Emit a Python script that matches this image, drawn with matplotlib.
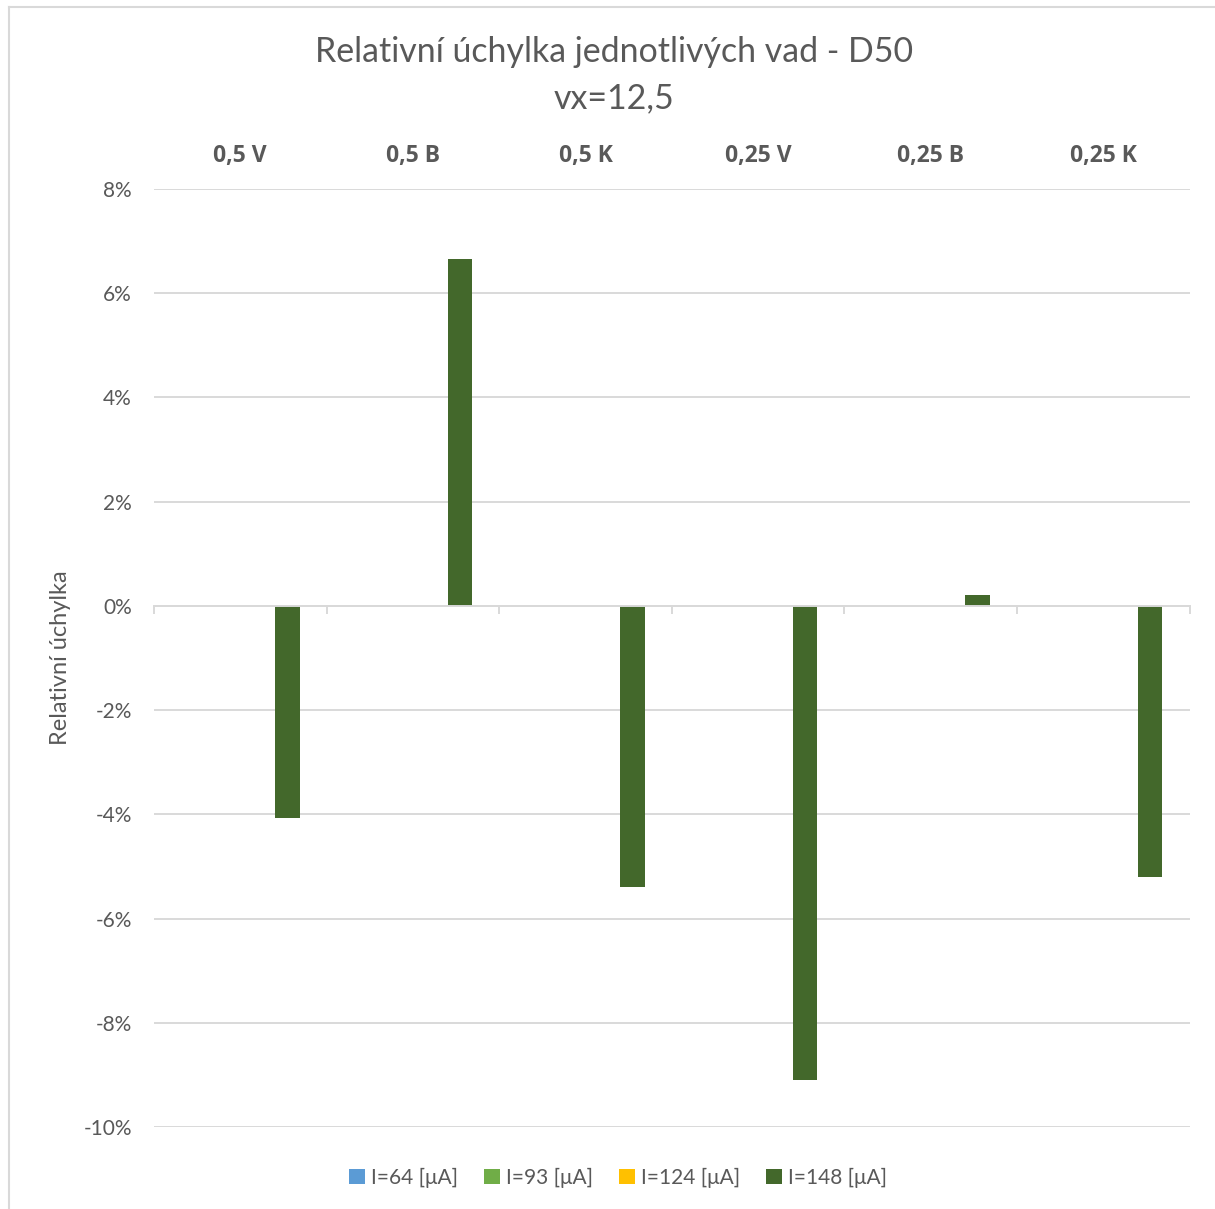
import matplotlib
matplotlib.use("Agg")
import matplotlib.pyplot as plt
from matplotlib.lines import Line2D
from matplotlib.ticker import FuncFormatter, FixedLocator
import numpy as np

plt.rcParams['font.family'] = ['Lato', 'DejaVu Sans']

categories = ["0,5 V", "0,5 B", "0,5 K", "0,25 V", "0,25 B", "0,25 K"]
series_names = ["I=64 [μA]", "I=93 [μA]", "I=124 [μA]", "I=148 [μA]"]
series_colors = ["#5B9BD5", "#70AD47", "#FFC000", "#43682B"]
i64 = [0.0, 0.0, 0.0, 0.0, 0.0, 0.0]
i93 = [0.0, 0.0, 0.0, 0.0, 0.0, 0.0]
i124 = [0.0, 0.0, 0.0, 0.0, 0.0, 0.0]
i148 = [-0.0407, 0.0666, -0.0539, -0.0910, 0.0021, -0.0520]
series_values = [i64, i93, i124, i148]

title = "Relativní úchylka jednotlivých vad - D50\nvx=12,5"
y_label = "Relativní úchylka"

TEXT = "#595959"
GRID = "#D9D9D9"

fig = plt.figure(figsize=(12.15, 12.09), dpi=100)
ax = fig.add_axes([154 / 1215, 1 - 1127 / 1209, (1189.5 - 154) / 1215, (1127 - 189) / 1209])

x = np.arange(len(categories)) + 0.5
step = 0.1815
width = 0.1425
for k, (name, vals, col) in enumerate(zip(series_names, series_values, series_colors)):
    ax.bar(x + (k - 1.5) * step, vals, width=width, color=col, linewidth=0, label=name, zorder=3)

ax.set_xlim(0, len(categories))
ax.set_ylim(-0.10, 0.08)
ax.yaxis.set_major_locator(FixedLocator(np.arange(-0.10, 0.0801, 0.02)))
ax.yaxis.set_major_formatter(FuncFormatter(lambda v, _: f"{v * 100:.0f}%"))
ax.grid(axis='y', color=GRID, linewidth=1.4, zorder=0)
ax.set_axisbelow(True)

# horizontal axis line sits on zero
for s in ('top', 'left', 'right'):
    ax.spines[s].set_visible(False)
ax.spines['bottom'].set_position(('data', 0))
ax.spines['bottom'].set_color(GRID)
ax.spines['bottom'].set_linewidth(1.4)
ax.spines['bottom'].set_zorder(4)

# category labels on top, boundary ticks on the zero line
ax.set_xticks(x)
ax.set_xticks(np.arange(len(categories) + 1), minor=True)
ax.tick_params(axis='x', which='major', bottom=False, top=False, labelbottom=False,
               labeltop=True, length=0, pad=15)
ax.tick_params(axis='x', which='minor', bottom=True, top=False, length=6,
               width=1.4, color=GRID, direction='out')
ax.set_xticklabels(categories, fontsize=16.5, fontweight='bold', color=TEXT,
                   family=['Open Sans', 'DejaVu Sans'])
ax.tick_params(axis='y', length=0, labelsize=15, labelcolor=TEXT, pad=16)

ax.set_ylabel(y_label, fontsize=17, color=TEXT)
ax.yaxis.set_label_coords(-0.080, 0.5)

fig.text(614 / 1215, 1 - 75 / 1209, title, ha='center', va='center', fontsize=24.4,
         color=TEXT, linespacing=1.55)

handles, labels = ax.get_legend_handles_labels()
fig.legend(handles, labels, loc='center', bbox_to_anchor=(618 / 1215, 1 - 1178 / 1209),
           ncol=4, frameon=False, fontsize=15, labelcolor=TEXT, handlelength=0.75,
           handleheight=0.75, handletextpad=0.3, columnspacing=1.25)

# chart area border (left and top edges)
fig.add_artist(Line2D([9 / 1215, 9 / 1215], [0, 1 - 7 / 1209], transform=fig.transFigure,
                      color=GRID, linewidth=1.5))
fig.add_artist(Line2D([9 / 1215, 1], [1 - 7 / 1209, 1 - 7 / 1209], transform=fig.transFigure,
                      color=GRID, linewidth=1.5))

fig.savefig("out.png", dpi=100, facecolor="white")
